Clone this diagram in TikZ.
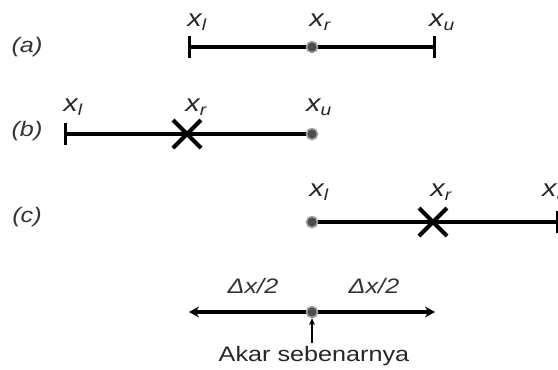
\documentclass[tikz,border=0pt]{standalone}
\usepackage{fontspec}
\setmainfont{Liberation Sans}[FakeStretch=1.2]
\usetikzlibrary{arrows.meta}
\begin{document}
\begin{tikzpicture}[x=1pt,y=-1pt,
  seg/.style={line width=4.2pt},
  endtick/.style={line width=3pt},
  cross/.style={line width=4.2pt},
  rootdot/.style={circle,fill=black!70,inner sep=0pt,minimum size=11pt,draw=black!35,line width=1.5pt},
  vlabel/.style={font=\fontsize{24}{24}\selectfont\itshape,text=black!85,inner sep=0pt},
  caselabel/.style={font=\fontsize{21}{21}\selectfont\itshape,text=black!80,inner sep=0pt},
  plain/.style={font=\fontsize{21}{21}\selectfont,text=black!85,inner sep=0pt}]
\useasboundingbox (0,0) rectangle (558,370);
\newcommand{\subl}[1]{\textsubscript{\fontsize{16}{16}\selectfont #1}}

% (a) initial bracket with its midpoint
\node[caselabel] (la) at (27,47) {(a)};
\coordinate (a1) at (189,47);
\coordinate (a2) at (434,47);
\node[rootdot] (ar) at (312,47) {};
\draw[seg] (a1) -- (a2);
\draw[endtick] ([yshift=-11]a1) -- ([yshift=11]a1);
\draw[endtick] ([yshift=-11]a2) -- ([yshift=11]a2);
\node[rootdot] at (ar) {};
\node[vlabel] (al) at (197,22) {x\subl{l}};
\node[vlabel] (axr) at (320,22) {x\subl{r}};
\node[vlabel] (axu) at (442,22) {x\subl{u}};

% (b) root in the lower half
\node[caselabel] (lb) at (27,131) {(b)};
\coordinate (b1) at (65,134);
\node[rootdot] (b2) at (312,134) {};
\coordinate (bx) at (187,134);
\draw[seg] (b1) -- (b2.center);
\draw[endtick] ([yshift=-11]b1) -- ([yshift=11]b1);
\node[rootdot] at (b2) {};
\draw[cross] ([shift={(-14,-14)}]bx) -- ([shift={(14,14)}]bx)
             ([shift={(-14,14)}]bx) -- ([shift={(14,-14)}]bx);
\node[vlabel] (bl) at (73,107) {x\subl{l}};
\node[vlabel] (bxr) at (196,107) {x\subl{r}};
\node[vlabel] (bxu) at (319,107) {x\subl{u}};

% (c) root in the upper half
\node[caselabel] (lc) at (27,217) {(c)};
\node[rootdot] (c1) at (312,222) {};
\coordinate (c2) at (557,222);
\coordinate (cx) at (433,222);
\draw[seg] (c1.center) -- (c2);
\draw[endtick] ([yshift=-11]c2) -- ([yshift=11]c2);
\node[rootdot] at (c1) {};
\draw[cross] ([shift={(-14,-14)}]cx) -- ([shift={(14,14)}]cx)
             ([shift={(-14,14)}]cx) -- ([shift={(14,-14)}]cx);
\node[vlabel] (cl) at (319,192) {x\subl{l}};
\node[vlabel] (cxr) at (441,192) {x\subl{r}};
\node[vlabel,anchor=west] (cxu) at (542,192) {x\subl{u}};

% error bound around the true root
\coordinate (d1) at (189,312);
\coordinate (d2) at (435,312);
\node[rootdot] (root) at (312,312) {};
\draw[seg,{Stealth[length=10pt,width=11pt]}-{Stealth[length=10pt,width=11pt]}] (d1) -- (d2);
\node[rootdot] at (root) {};
\node[caselabel] (h1) at (253,286) {Δx/2};
\node[caselabel] (h2) at (374,286) {Δx/2};
\node[plain] (akar) at (314,356) {Akar sebenarnya};
\draw[line width=1.3pt,-{Stealth[length=7pt,width=6pt]}] (akar.north) ++(-2,-3) coordinate (ak) (ak) -- (root.south);
\end{tikzpicture}
\end{document}
